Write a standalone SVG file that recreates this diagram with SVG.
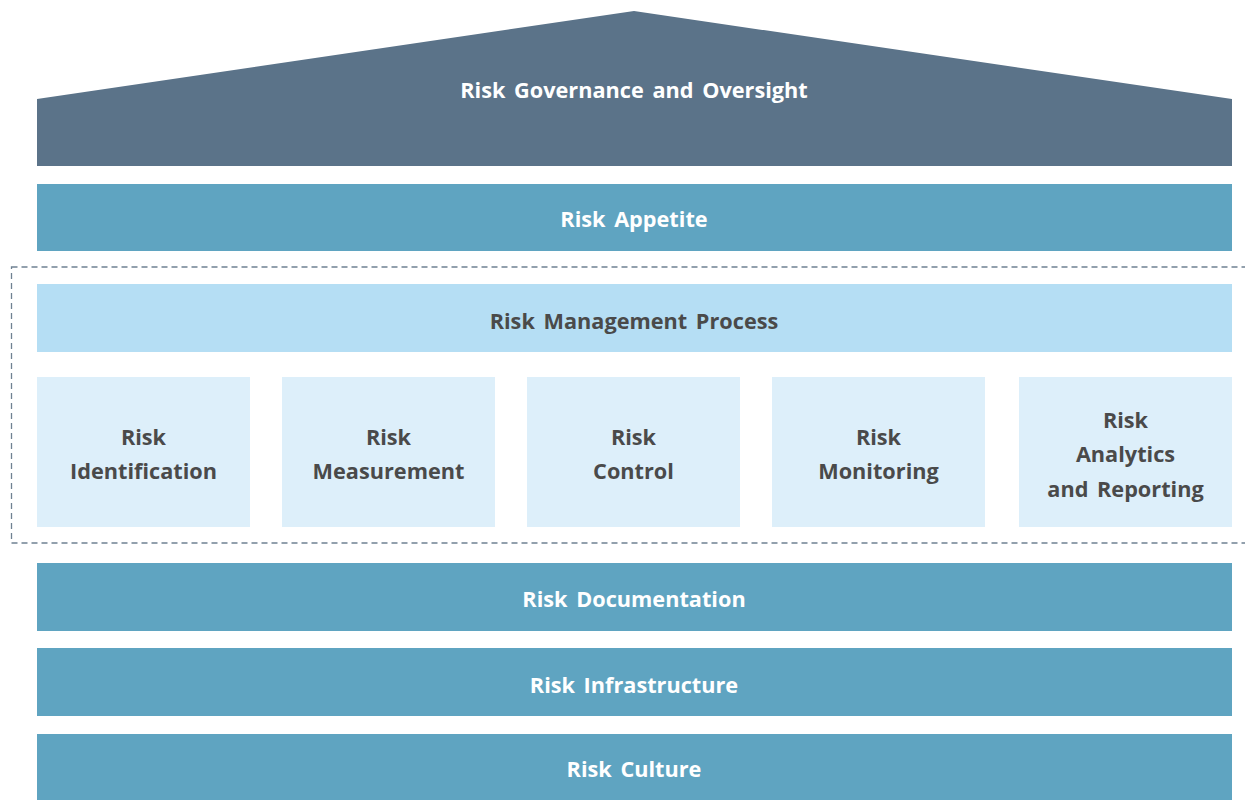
<svg xmlns="http://www.w3.org/2000/svg" width="1245" height="800" viewBox="0 0 1245 800">
<style>
text{font-family:"Open Sans","Liberation Sans",sans-serif;font-weight:bold;font-size:21.7px;text-anchor:middle;dominant-baseline:central;word-spacing:3px}
.w{fill:#ffffff}
.d{fill:#4a4a4a}
.band{fill:#5fa4c1}
.step{fill:#ddeffa}
</style>
<rect width="1245" height="800" fill="#ffffff"/>
<g id="governance">
<polygon points="37,99 634,11 1232,99 1232,166 37,166" fill="#5b7389"/>
<text class="w" x="634" y="89">Risk Governance and Oversight</text>
</g>
<g id="appetite">
<rect class="band" x="37" y="184" width="1195" height="67"/>
<text class="w" x="634" y="218">Risk Appetite</text>
</g>
<g id="process-frame">
<rect x="11.5" y="267" width="1250" height="276" fill="none" stroke="#6f8192" stroke-width="1.3" stroke-dasharray="6,4"/>
</g>
<g id="process">
<rect x="37" y="284" width="1195" height="68" fill="#b5def4"/>
<text class="d" x="634" y="320">Risk Management Process</text>
</g>
<g id="identification">
<rect class="step" x="37" y="377" width="213" height="150"/>
<text class="d" x="143.5" y="436">Risk</text>
<text class="d" x="143.5" y="470">Identification</text>
</g>
<g id="measurement">
<rect class="step" x="282" y="377" width="213" height="150"/>
<text class="d" x="388.5" y="436">Risk</text>
<text class="d" x="388.5" y="470">Measurement</text>
</g>
<g id="control">
<rect class="step" x="527" y="377" width="213" height="150"/>
<text class="d" x="633.5" y="436">Risk</text>
<text class="d" x="633.5" y="470">Control</text>
</g>
<g id="monitoring">
<rect class="step" x="772" y="377" width="213" height="150"/>
<text class="d" x="878.5" y="436">Risk</text>
<text class="d" x="878.5" y="470">Monitoring</text>
</g>
<g id="analytics">
<rect class="step" x="1019" y="377" width="213" height="150"/>
<text class="d" x="1125.5" y="419">Risk</text>
<text class="d" x="1125.5" y="453">Analytics</text>
<text class="d" x="1125.5" y="488">and Reporting</text>
</g>
<g id="documentation">
<rect class="band" x="37" y="563" width="1195" height="68"/>
<text class="w" x="634" y="598">Risk Documentation</text>
</g>
<g id="infrastructure">
<rect class="band" x="37" y="648" width="1195" height="68"/>
<text class="w" x="634" y="684">Risk Infrastructure</text>
</g>
<g id="culture">
<rect class="band" x="37" y="734" width="1195" height="66"/>
<text class="w" x="634" y="768">Risk Culture</text>
</g>
<g id="connectors"></g>
</svg>
